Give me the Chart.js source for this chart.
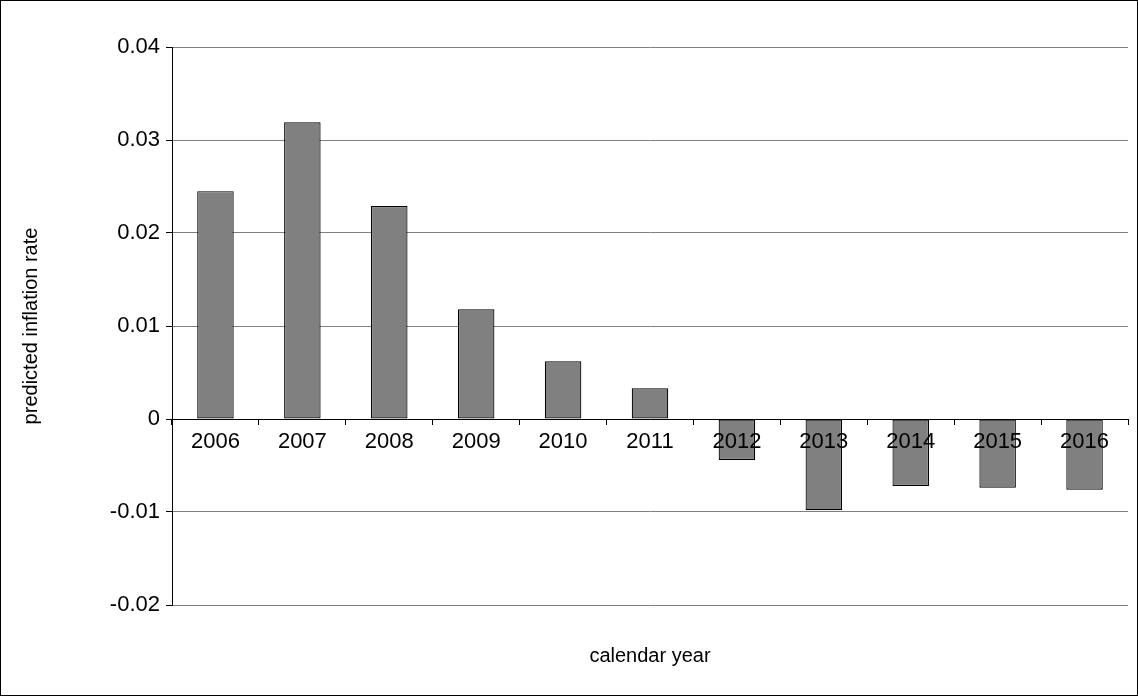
<!DOCTYPE html>
<html>
<head>
<meta charset="utf-8">
<script src="https://cdn.jsdelivr.net/npm/chart.js@4"></script>
<style>
  html, body { margin: 0; padding: 0; background: #fff; }
  #wrap { width: 1136px; height: 694px; border: 1px solid #000; }
</style>
</head>
<body>
<div id="wrap"><canvas id="c" width="1136" height="694"></canvas></div>
<script>
const years = ['2006', '2007', '2008', '2009', '2010', '2011', '2012', '2013', '2014', '2015', '2016'];
const inflation = [0.0245, 0.0319, 0.0229, 0.0118, 0.0062, 0.0033, -0.0044, -0.0098, -0.0072, -0.0074, -0.0076];
const yTicks = [-0.02, -0.01, 0, 0.01, 0.02, 0.03, 0.04];

const font = { family: 'Liberation Sans, Arial', size: 22 };

// year labels go on top of the bars, and the x title sits under the plot
const overlay = {
  id: 'overlay',
  afterDatasetsDraw(chart) {
    const { ctx, chartArea, scales } = chart;
    const y0 = scales.y.getPixelForValue(0);
    ctx.save();
    ctx.font = '22px Liberation Sans, Arial';
    ctx.fillStyle = '#000';
    ctx.textAlign = 'center';
    ctx.textBaseline = 'middle';
    years.forEach((yr, i) => {
      ctx.fillText(yr, scales.x.getPixelForValue(i), y0 + 23);
    });
    ctx.font = '20px Liberation Sans, Arial';
    ctx.fillText('calendar year', (chartArea.left + chartArea.right) / 2, chartArea.bottom + 51);
    ctx.restore();
  }
};

new Chart(document.getElementById('c'), {
  type: 'bar',
  data: {
    labels: years,
    datasets: [{
      data: inflation,
      backgroundColor: '#808080',
      borderColor: '#000',
      borderWidth: 1.2,
      borderSkipped: false,
      barPercentage: 0.42,
      categoryPercentage: 1
    }]
  },
  options: {
    responsive: false,
    animation: false,
    layout: { padding: { left: 0, top: 46, right: 9, bottom: 90 } },
    plugins: { legend: { display: false }, tooltip: { enabled: false } },
    scales: {
      x: {
        position: { y: 0 },
        grid: { display: true, drawOnChartArea: false, offset: true, tickLength: 5, color: '#000' },
        border: { color: '#000' },
        ticks: { display: false }
      },
      y: {
        min: -0.02, max: 0.04,
        afterFit(scale) { scale.width = 171; },
        afterBuildTicks(scale) { scale.ticks = yTicks.map(v => ({ value: v })); },
        grid: { color: '#808080', tickColor: '#000', tickLength: 6 },
        border: { color: '#000' },
        ticks: { color: '#000', font, padding: 6, callback: v => String(Math.round(v * 100) / 100) },
        title: { display: true, text: 'predicted inflation rate', color: '#000', font: { family: 'Liberation Sans, Arial', size: 20 }, padding: { top: 18, bottom: 4 } }
      }
    }
  },
  plugins: [overlay]
});
</script>
</body>
</html>
